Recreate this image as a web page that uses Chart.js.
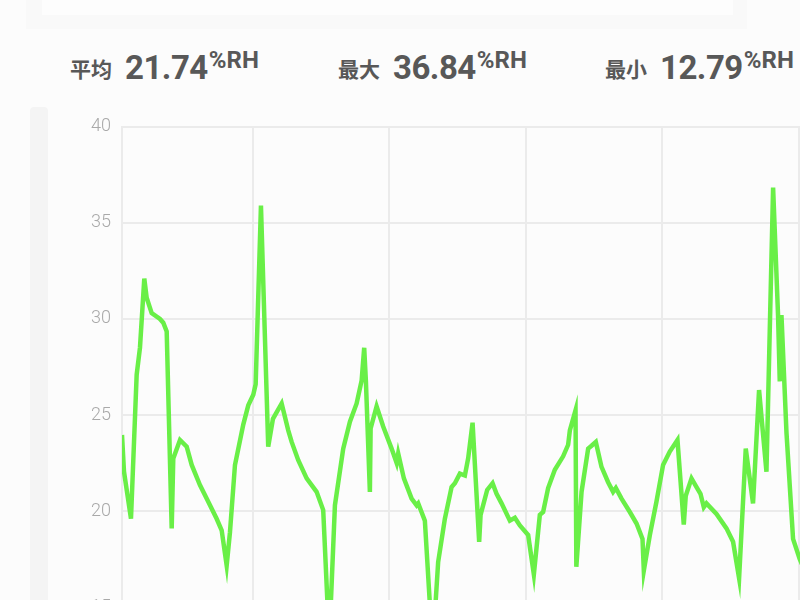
<!DOCTYPE html>
<html>
<head>
<meta charset="utf-8">
<script src="https://cdn.jsdelivr.net/npm/chart.js@4.4.1/dist/chart.umd.min.js"></script>
<style>
  html, body { margin: 0; padding: 0; }
  body { width: 800px; height: 600px; overflow: hidden; background: #fcfcfc; position: relative;
         font-family: Roboto, "Noto Sans CJK SC", sans-serif; }
  .topbar { position: absolute; left: 26px; top: 0; width: 721px; height: 29px; background: #f9f9f9; }
  .topbar .inner { position: absolute; left: 16px; top: 0; width: 691px; height: 15px; background: #fdfdfd; }
  .stat { position: absolute; top: 46px; color: #585858; white-space: nowrap; }
  .stat .lbl { font-family: "Noto Sans CJK SC", sans-serif; font-weight: 700; font-size: 21px; vertical-align: 2px; }
  .stat .num { font-weight: 700; font-size: 33px; margin-left: 13px; letter-spacing: -0.5px; }
  .stat .unit { font-weight: 700; font-size: 24px; vertical-align: 11px; margin-left: 1px; }
  .strip { position: absolute; left: 30px; top: 107px; width: 18px; height: 520px; background: #f4f4f4; border-radius: 4px 4px 0 0; }
  .chartbox { position: absolute; left: 60px; top: 105px; width: 767px; height: 620px; }
</style>
</head>
<body>
<div class="topbar"><div class="inner"></div></div>
<div class="stat" style="left:70px"><span class="lbl">平均</span><span class="num">21.74</span><span class="unit">%RH</span></div>
<div class="stat" style="left:338px"><span class="lbl">最大</span><span class="num">36.84</span><span class="unit">%RH</span></div>
<div class="stat" style="left:605px"><span class="lbl">最小</span><span class="num">12.79</span><span class="unit">%RH</span></div>
<div class="strip"></div>
<div class="chartbox"><canvas id="humChart"></canvas></div>
<script>
// hours since start of the record
const hours = [
    0, 0.35, 1.58, 2.58, 3.16, 3.92, 4.34, 5.22, 6.68, 7.26, 7.86, 8.74, 9.02, 10.2, 11.38, 12.26,
    13.71, 14.89, 16.65, 17.53, 18.41, 18.99, 19.87, 21.33, 22.21, 23.09, 23.51, 24.44, 25.72, 26.55,
    28.08, 29.24, 29.84, 31.0, 32.48, 34.23, 35.39, 36.45, 37.45, 38.91, 40.09, 41.27, 42.15, 42.6,
    42.9, 43.6, 43.73, 44.78, 45.94, 47.42, 48.3, 48.58, 49.58, 50.94, 51.82, 52.1, 53.27, 54.63,
    55.61, 56.79, 57.97, 58.55, 59.43, 60.31, 60.89, 61.66, 62.82, 63.07, 64.23, 65.18, 65.88, 66.76,
    68.22, 69.1, 69.98, 71.44, 72.44, 73.49, 74.07, 74.95, 76.13, 77.59, 78.47, 78.77, 79.77, 79.91,
    80.83, 81.99, 82.59, 83.34, 84.34, 85.5, 86.38, 86.86, 87.86, 89.32, 90.5, 91.55, 91.78, 92.84,
    94.01, 95.17, 96.35, 97.7, 98.81, 99.16, 100.17, 101.05, 101.75, 102.33, 102.8, 104.56, 106.32,
    107.48, 108.54, 109.71, 110.99, 112.05, 113.35, 114.52, 115.39, 115.69, 115.99, 116.87, 118.03,
    119.21, 120.09, 121.3
];
// relative humidity, %RH
const humidity = [
    23.96, 22.05, 19.6, 27.1, 28.5, 32.1, 31.1, 30.3, 30.0, 29.8, 29.35, 19.1, 22.74, 23.7, 23.35, 22.4,
    21.35, 20.65, 19.6, 19.0, 17.17, 18.9, 22.4, 24.5, 25.5, 26.05, 26.6, 35.9, 23.35, 24.8,
    25.6, 24.2, 23.6, 22.65, 21.7, 21.0, 20.05, 13.2, 20.3, 23.25, 24.65, 25.6, 26.8, 28.5,
    26.75, 21.0, 24.3, 25.45, 24.4, 23.25, 22.5, 23.0, 21.7, 20.65, 20.3, 20.4, 19.5, 12.79,
    17.35, 19.6, 21.25, 21.45, 21.95, 21.85, 22.75, 24.6, 18.4, 19.8, 21.1, 21.45, 20.9, 20.4,
    19.5, 19.65, 19.25, 18.75, 16.7, 19.8, 19.95, 21.2, 22.15, 22.85, 23.45, 24.2, 25.25, 17.1,
    21.0, 23.25, 23.4, 23.6, 22.3, 21.5, 21.0, 21.2, 20.65, 19.95, 19.35, 18.55, 16.9, 18.75,
    20.5, 22.4, 23.1, 23.7, 19.3, 20.8, 21.7, 21.25, 20.9, 20.2, 20.4, 19.85, 19.1,
    18.4, 16.5, 23.25, 20.4, 26.3, 22.05, 36.84, 30.2, 26.75, 30.2, 24.1, 18.55,
    17.5, 16.9, 17.2
];
const dayLines = [0, 23, 47, 71, 95, 119];
const yTicks = [10, 15, 20, 25, 30, 35, 40];

const gridColor = '#ebebeb';

const ctx = document.getElementById('humChart').getContext('2d');
new Chart(ctx, {
    type: 'line',
    data: {
        datasets: [{
            data: hours.map((h, i) => ({ x: h, y: humidity[i] })),
            borderColor: '#69ef47',
            borderWidth: 4.5,
            pointRadius: 0,
            tension: 0,
            fill: false
        }]
    },
    options: {
        responsive: true,
        maintainAspectRatio: false,
        animation: false,
        layout: { padding: { top: 10, right: 0, bottom: 0, left: 0 } },
        plugins: { legend: { display: false }, tooltip: { enabled: false } },
        scales: {
            x: {
                type: 'linear',
                min: 0,
                max: 124,
                afterBuildTicks: axis => { axis.ticks = dayLines.map(v => ({ value: v })); },
                ticks: { display: false },
                grid: { color: gridColor, lineWidth: 2, drawTicks: false },
                border: { display: false }
            },
            y: {
                min: 10,
                max: 40,
                afterBuildTicks: axis => { axis.ticks = yTicks.map(v => ({ value: v })); },
                afterFit: axis => { axis.width = 62; },
                ticks: {
                    color: '#a9a9a9',
                    padding: 11,
                    font: { family: 'Roboto', size: 18, weight: '300' }
                },
                grid: { color: gridColor, lineWidth: 2, drawTicks: false },
                border: { display: true, color: gridColor, width: 2 }
            }
        }
    }
});
</script>
</body>
</html>
